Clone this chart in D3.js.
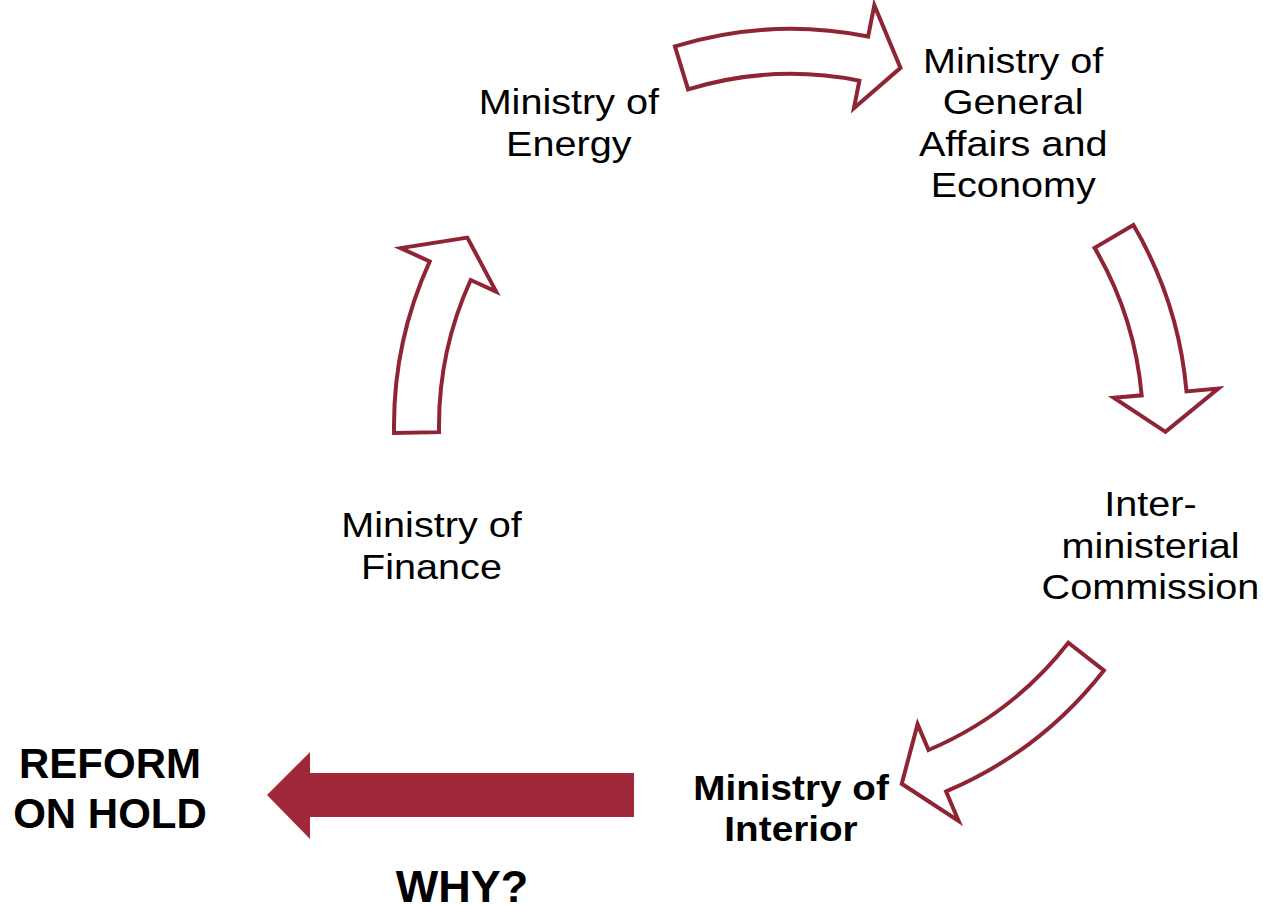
<!DOCTYPE html>
<html>
<head>
<meta charset="utf-8">
<script src="https://cdn.jsdelivr.net/npm/d3@7"></script>
<style>
  html, body { margin: 0; padding: 0; background: #fff; }
  text { font-family: "Liberation Sans", Arial, sans-serif; }
</style>
</head>
<body>
<div id="cycle"></div>
<script>
// steps of the cycle, clockwise from the left
var steps = [
  ["Ministry of", "Finance"],
  ["Ministry of", "Energy"],
  ["Ministry of", "General", "Affairs and", "Economy"],
  ["Inter-", "ministerial", "Commission"],
  ["Ministry of", "Interior"]
];
var stepAngle = [-108, -36, 36, 108, 180]; // degrees, 0 = top
var stepBold = [false, false, false, false, true];

// curved arrows between steps (degrees): tail, notch of head, tip
var arrowTail = [-91, -17, 59.6, 128];
var arrowNotch = [-65.5, 11.2, 85, 157];
var arrowTip = [-59.8, 17, 90.9, 162.8];

var outcome = ["REFORM", "ON HOLD"];
var question = "WHY?";

var w = 1263, h = 905;
var cx = 791, cy = 426;
var red = "#8f2434", fillRed = "#a12838";

var svg = d3.select("#cycle").append("svg")
  .attr("width", w)
  .attr("height", h);

var ang = d3.scaleLinear().domain([0, 360]).range([0, 2 * Math.PI]);
// radii: shaft inner/outer, head inner/outer
var r = { si: 352, so: 397, hi: 324, ho: 429, lab: 378 };
r.mid = (r.si + r.so) / 2;

function pt(a, rad) {
  return [cx + rad * Math.sin(ang(a)), cy - rad * Math.cos(ang(a))];
}

function arrowPath(d) {
  var p = d3.path();
  var a0 = ang(d.tail), a1 = ang(d.notch);
  var s = pt(d.tail, r.so);
  p.moveTo(s[0], s[1]);
  p.arc(cx, cy, r.so, a0 - Math.PI / 2, a1 - Math.PI / 2, false);
  var q = pt(d.notch, r.ho); p.lineTo(q[0], q[1]);
  q = pt(d.tip, r.mid); p.lineTo(q[0], q[1]);
  q = pt(d.notch, r.hi); p.lineTo(q[0], q[1]);
  q = pt(d.notch, r.si); p.lineTo(q[0], q[1]);
  p.arc(cx, cy, r.si, a1 - Math.PI / 2, a0 - Math.PI / 2, true);
  p.closePath();
  return p.toString();
}

var arrows = arrowTail.map(function (t, i) {
  return { tail: t, notch: arrowNotch[i], tip: arrowTip[i] };
});

svg.append("g").attr("id", "arrows")
  .selectAll("path")
  .data(arrows)
  .enter()
  .append("path")
  .attr("d", arrowPath)
  .attr("fill", "#fff")
  .attr("stroke", red)
  .attr("stroke-width", 4)
  .attr("stroke-linejoin", "miter");

// step labels (the original font is a bit wider than Arial)
var lineH = 41.5;
svg.append("g").attr("id", "steps")
  .selectAll("text")
  .data(steps)
  .enter()
  .append("text")
  .attr("text-anchor", "middle")
  .attr("font-size", 36)
  .attr("font-weight", function (d, i) { return stepBold[i] ? "bold" : "normal"; })
  .attr("transform", function (d, i) {
    var c = pt(stepAngle[i], r.lab);
    var y0 = c[1] - (d.length - 1) * lineH / 2 + (stepBold[i] ? 16.5 : 15);
    return "translate(" + c[0] + "," + y0 + ") scale(" + (stepBold[i] ? 1.075 : 1.1) + ",1)";
  })
  .each(function (d) {
    d3.select(this).selectAll("tspan")
      .data(d)
      .enter()
      .append("tspan")
      .attr("x", 0)
      .attr("y", function (l, j) { return j * lineH; })
      .text(function (l) { return l; });
  });

// solid arrow out of the cycle
var ax = d3.scaleLinear().domain([0, 1]).range([267, 634]);
var holdArrow = d3.path();
holdArrow.moveTo(ax(1), 773);
holdArrow.lineTo(ax(0) + 43, 773);
holdArrow.lineTo(ax(0) + 43, 752);
holdArrow.lineTo(ax(0), 795);
holdArrow.lineTo(ax(0) + 43, 839);
holdArrow.lineTo(ax(0) + 43, 817);
holdArrow.lineTo(ax(1), 817);
holdArrow.closePath();
svg.append("path")
  .attr("d", holdArrow.toString())
  .attr("fill", fillRed);

svg.append("text")
  .attr("text-anchor", "middle")
  .attr("font-size", 42)
  .attr("font-weight", "bold")
  .selectAll("tspan")
  .data(outcome)
  .enter()
  .append("tspan")
  .attr("x", 110)
  .attr("y", function (d, i) { return 778 + i * 50; })
  .text(function (d) { return d; });

svg.append("text")
  .attr("text-anchor", "middle")
  .attr("font-size", 45)
  .attr("font-weight", "bold")
  .attr("x", 462)
  .attr("y", 902)
  .text(question);
</script>
</body>
</html>
